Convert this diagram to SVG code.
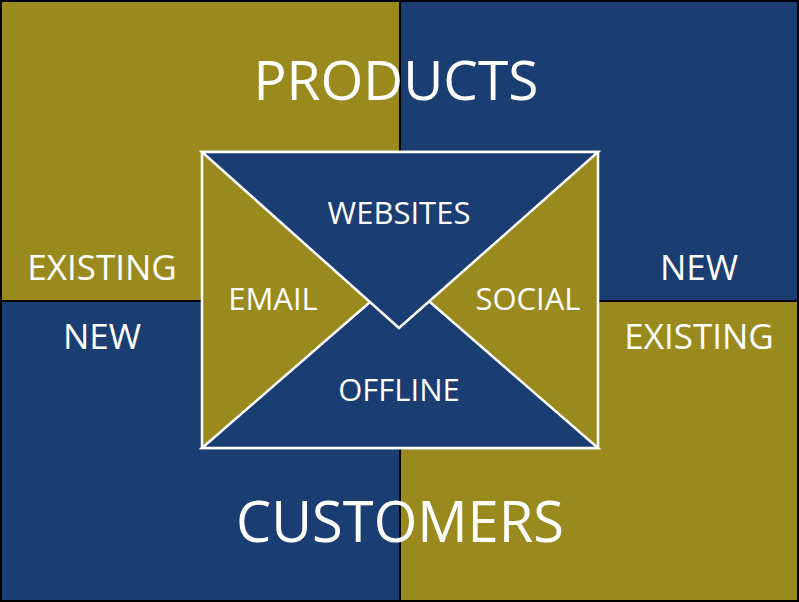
<svg xmlns="http://www.w3.org/2000/svg" width="799" height="602" viewBox="0 0 799 602">
<style>
.o{fill:#9a8a1e}.b{fill:#1b3e72}
.t{fill:#fff;font-family:"Open Sans","Liberation Sans",sans-serif;text-anchor:middle;font-weight:500}
.env{stroke:#fff;stroke-width:2.5;stroke-linejoin:miter}
</style>
<g id="quadrants" stroke="#000" stroke-width="2">
<rect class="o" x="1" y="1" width="399" height="300"/>
<rect class="b" x="400" y="1" width="398" height="300"/>
<rect class="b" x="1" y="301" width="399" height="300"/>
<rect class="o" x="400" y="301" width="398" height="300"/>
</g>
<g id="envelope">
<rect class="o env" x="202" y="152" width="396" height="296"/>
<polygon class="b env" points="202,448 598,448 400,276"/>
<polygon class="b env" points="202,152 598,152 399,328"/>
</g>
<g id="labels">
<text class="t" x="396" y="100" font-size="55">PRODUCTS</text>
<text class="t" x="400" y="542" font-size="56">CUSTOMERS</text>
<text class="t" x="102" y="280" font-size="35">EXISTING</text>
<text class="t" x="102" y="349" font-size="35">NEW</text>
<text class="t" x="699" y="280" font-size="35">NEW</text>
<text class="t" x="699" y="349" font-size="35">EXISTING</text>
<text class="t" x="399" y="224" font-size="31">WEBSITES</text>
<text class="t" x="273" y="310" font-size="31">EMAIL</text>
<text class="t" x="528" y="310" font-size="31">SOCIAL</text>
<text class="t" x="399" y="401" font-size="31">OFFLINE</text>
</g>
</svg>
